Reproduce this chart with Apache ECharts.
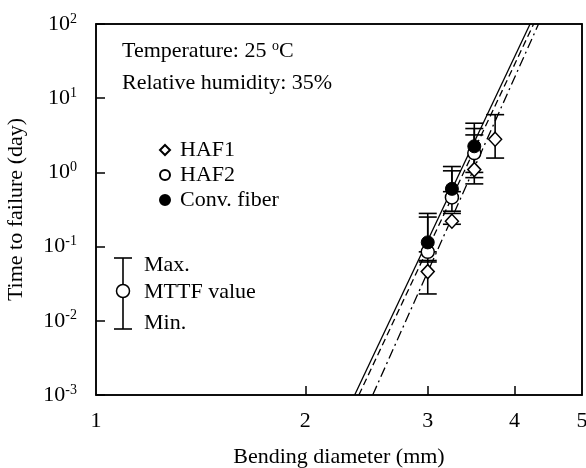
<!DOCTYPE html>
<html>
<head>
<meta charset="utf-8">
<script src="https://cdn.jsdelivr.net/npm/echarts@6/dist/echarts.min.js"></script>
<style>
  html, body { margin: 0; padding: 0; background: #fff; }
  #chart { width: 586px; height: 468px; }
</style>
</head>
<body>
<div id="chart"></div>
<script>
// bending diameter (mm) of each group
const diamHAF1 = [3.0, 3.25, 3.5, 3.75];
const diamHAF2 = [3.0, 3.25, 3.5];
const diamConv = [3.0, 3.25, 3.5];

// MTTF (day), max and min
const mttfHAF1 = [0.046, 0.22, 1.09, 2.8];
const maxHAF1 = [0.065, 0.28, 3.2, 6.0];
const minHAF1 = [0.023, 0.2, 0.7, 1.56];

const mttfHAF2 = [0.085, 0.46, 1.82];
const maxHAF2 = [0.25, 1.05, 3.9];
const minHAF2 = [0.062, 0.3, 0.85];

const mttfConv = [0.114, 0.6, 2.25];
const maxConv = [0.28, 1.2, 4.6];
const minConv = [0.085, 0.55, 1.0];

// fitted lines, end points [diameter, time]
const fitConv = [[2.355, 0.001], [4.21, 100]];
const fitHAF2 = [[2.388, 0.001], [4.26, 100]];
const fitHAF1 = [[2.5, 0.001], [4.33, 100]];

const xTickLabels = [1, 2, 3, 4, 5];
const xTickMarks = [2, 3, 4];

const FONT = '"Liberation Serif", "DejaVu Serif", serif';
const FS = 22;

const chart = echarts.init(document.getElementById('chart'));

const pts = (d, v) => d.map((x, i) => [x, v[i]]);
const bars = (d, hi, lo) => d.map((x, i) => [x, hi[i], lo[i]]);

function errBar(params, api) {
  const x = api.value(0);
  const top = api.coord([x, api.value(1)]);
  const bot = api.coord([x, api.value(2)]);
  const w = 9;
  const st = { stroke: '#000', lineWidth: 1.6 };
  return {
    type: 'group',
    children: [
      { type: 'line', shape: { x1: top[0], y1: top[1], x2: bot[0], y2: bot[1] }, style: st },
      { type: 'line', shape: { x1: top[0] - w, y1: top[1], x2: top[0] + w, y2: top[1] }, style: st },
      { type: 'line', shape: { x1: bot[0] - w, y1: bot[1], x2: bot[0] + w, y2: bot[1] }, style: st },
    ],
  };
}

const errSeries = (d, hi, lo) => ({
  type: 'custom',
  renderItem: errBar,
  data: bars(d, hi, lo),
  encode: { x: 0, y: [1, 2] },
  z: 1,
  silent: true,
});

const fitSeries = (name, data, type) => ({
  name: name,
  type: 'line',
  data: data,
  showSymbol: false,
  symbol: 'none',
  lineStyle: { color: '#000', width: 1.3, type: type },
  z: 1,
});

const txt = (s, left, top) => ({
  type: 'text', left: left, top: top,
  style: { text: s, font: FS + 'px ' + FONT, fill: '#000' },
});

const frameLine = { lineStyle: { color: '#000', width: 1.5 } };

const option = {
  animation: false,
  backgroundColor: '#fff',
  textStyle: { fontFamily: FONT, color: '#000' },
  grid: {
    left: 96, right: 4, top: 24, bottom: 73,
    containLabel: false,
    outerBoundsMode: 'none',
    show: true, borderColor: '#000', borderWidth: 1.5, backgroundColor: 'transparent',
  },
  legend: {
    data: ['HAF1', 'HAF2', 'Conv. fiber'],
    orient: 'vertical',
    left: 154,
    top: 134,
    itemWidth: 10,
    itemHeight: 10,
    itemGap: 3,
    textStyle: { fontFamily: FONT, fontSize: FS, color: '#000', padding: [0, 0, 0, 5] },
  },
  xAxis: [
    {
      type: 'log',
      logBase: 10,
      min: 1,
      max: 5,
      name: 'Bending diameter (mm)',
      nameLocation: 'middle',
      nameGap: 51,
      nameTextStyle: { fontFamily: FONT, fontSize: FS, color: '#000' },
      axisLine: frameLine,
      axisTick: { inside: true, length: 9, customValues: xTickMarks, lineStyle: { color: '#000', width: 1.5 } },
      axisLabel: { customValues: xTickLabels, margin: 15, fontFamily: FONT, fontSize: FS, color: '#000' },
      splitLine: { show: false },
      minorTick: { show: false },
    },
    {
      type: 'log', logBase: 10, min: 1, max: 5, position: 'top',
      axisLine: frameLine, axisTick: { show: false }, axisLabel: { show: false }, splitLine: { show: false },
    },
  ],
  yAxis: [
    {
      type: 'log',
      logBase: 10,
      min: 0.001,
      max: 100,
      name: 'Time to failure (day)',
      nameLocation: 'middle',
      nameGap: 69,
      nameTextStyle: { fontFamily: FONT, fontSize: FS, color: '#000' },
      axisLine: frameLine,
      axisTick: { inside: true, length: 9, lineStyle: { color: '#000', width: 1.5 } },
      axisLabel: {
        margin: 19,
        formatter: v => '{b|10}{s|' + Math.round(Math.log10(v)) + '}',
        rich: {
          b: { fontFamily: FONT, fontSize: FS, color: '#000', lineHeight: 24 },
          s: { fontFamily: FONT, fontSize: 14, color: '#000', verticalAlign: 'top', lineHeight: 14 },
        },
      },
      splitLine: { show: false },
    },
    {
      type: 'log', logBase: 10, min: 0.001, max: 100, position: 'right',
      axisLine: frameLine, axisTick: { show: false }, axisLabel: { show: false }, splitLine: { show: false },
    },
  ],
  graphic: [
    {
      type: 'text', left: 122, top: 39,
      style: {
        text: '{t|Temperature: 25 }{s|o}{t|C}',
        rich: {
          t: { fontFamily: FONT, fontSize: FS, fill: '#000', lineHeight: 24 },
          s: { fontFamily: FONT, fontSize: 14, fill: '#000', verticalAlign: 'top', lineHeight: 14 },
        },
      },
    },
    txt('Relative humidity: 35%', 122, 72),
    // error bar key
    { type: 'line', shape: { x1: 123, y1: 258, x2: 123, y2: 329 }, style: { stroke: '#000', lineWidth: 1.6 } },
    { type: 'line', shape: { x1: 114, y1: 258, x2: 132, y2: 258 }, style: { stroke: '#000', lineWidth: 1.6 } },
    { type: 'line', shape: { x1: 114, y1: 329, x2: 132, y2: 329 }, style: { stroke: '#000', lineWidth: 1.6 } },
    { type: 'circle', shape: { cx: 123, cy: 291, r: 6.5 }, style: { fill: '#fff', stroke: '#000', lineWidth: 1.5 } },
    txt('Max.', 144, 254),
    txt('MTTF value', 144, 281),
    txt('Min.', 144, 312),
  ],
  series: [
    fitSeries('fitConv', fitConv, 'solid'),
    fitSeries('fitHAF2', fitHAF2, [7, 4]),
    fitSeries('fitHAF1', fitHAF1, [10, 4, 2, 4]),
    errSeries(diamHAF1, maxHAF1, minHAF1),
    errSeries(diamHAF2, maxHAF2, minHAF2),
    errSeries(diamConv, maxConv, minConv),
    {
      name: 'HAF1', type: 'scatter', data: pts(diamHAF1, mttfHAF1),
      symbol: 'diamond', symbolSize: [13, 14], z: 3,
      itemStyle: { color: '#fff', borderColor: '#000', borderWidth: 1.5, opacity: 1 },
    },
    {
      name: 'HAF2', type: 'scatter', data: pts(diamHAF2, mttfHAF2),
      symbol: 'circle', symbolSize: 13, z: 4,
      itemStyle: { color: '#fff', borderColor: '#000', borderWidth: 1.5, opacity: 1 },
    },
    {
      name: 'Conv. fiber', type: 'scatter', data: pts(diamConv, mttfConv),
      symbol: 'circle', symbolSize: 13, z: 5,
      itemStyle: { color: '#000', borderColor: '#000', borderWidth: 1, opacity: 1 },
    },
  ],
};

chart.setOption(option);
</script>
</body>
</html>
